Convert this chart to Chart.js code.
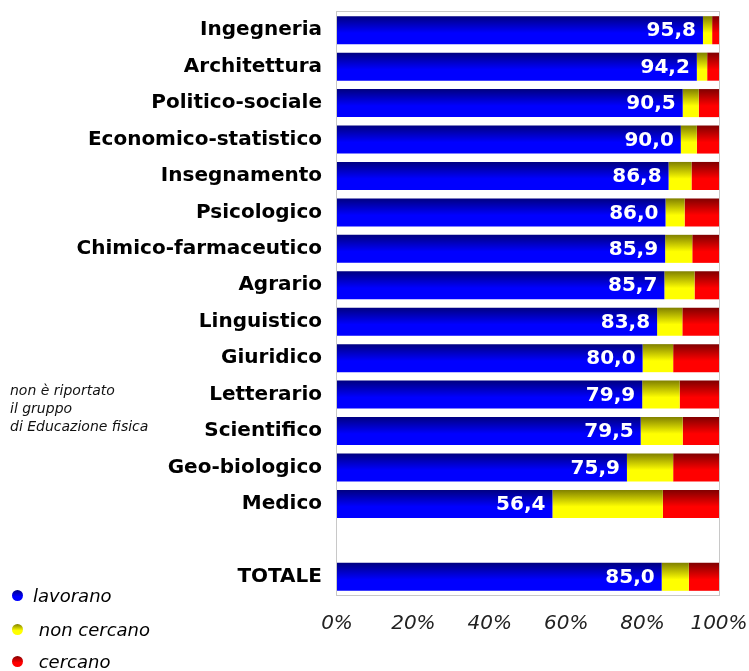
<!DOCTYPE html>
<html>
<head>
<meta charset="utf-8">
<script src="https://cdn.jsdelivr.net/npm/chart.js@4/dist/chart.umd.min.js"></script>
<style>
  html, body { margin: 0; padding: 0; background: #fff; }
  #wrap { position: relative; width: 749px; height: 671px; }
  .nota { position: absolute; left: 10px; top: 381px; font: italic 14px "DejaVu Sans", sans-serif; line-height: 18px; color: #111; }
  .leg { position: absolute; left: 12px; font: italic 18px "DejaVu Sans", sans-serif; color: #000; }
  .leg i { display: inline-block; width: 11px; height: 11px; border-radius: 50%; margin-right: 10px; vertical-align: 1px; }
</style>
</head>
<body>
<div id="wrap">
  <canvas id="c" width="749" height="671"></canvas>
  <div class="nota">non è riportato<br>il gruppo<br>di Educazione fisica</div>
  <div class="leg" style="top:585px"><i style="background:linear-gradient(#000080,#0000ff 60%)"></i>lavorano</div>
  <div class="leg" style="top:619px"><i style="background:linear-gradient(#808000,#ffff00 60%)"></i>&nbsp;non cercano</div>
  <div class="leg" style="top:651px"><i style="background:linear-gradient(#800000,#ff0000 60%)"></i>&nbsp;cercano</div>
</div>
<script>
const categorie = ["Ingegneria", "Architettura", "Politico-sociale", "Economico-statistico",
  "Insegnamento", "Psicologico", "Chimico-farmaceutico", "Agrario", "Linguistico",
  "Giuridico", "Letterario", "Scientifico", "Geo-biologico", "Medico", "", "TOTALE"];
const lavorano =   [95.8, 94.2, 90.5, 90.0, 86.8, 86.0, 85.9, 85.7, 83.8, 80.0, 79.9, 79.5, 75.9, 56.4, null, 85.0];
const nonCercano = [2.4, 2.7, 4.2, 4.2, 6.0, 5.0, 7.1, 7.9, 6.6, 8.0, 9.8, 11.0, 12.1, 28.9, null, 7.1];
const cercano =    [1.8, 3.1, 5.3, 5.8, 7.2, 9.0, 7.0, 6.4, 9.6, 12.0, 10.3, 9.5, 12.0, 14.7, null, 7.9];
const tickPerc = ["0%", "20%", "40%", "60%", "80%", "100%"];

const BAR_PCT = 0.77;

// vertical shading per bar: dark at the top, full colour in the lower part
function shade(dark, light) {
  return ctx => {
    const chart = ctx.chart;
    const y = chart.scales && chart.scales.y;
    if (!y || ctx.dataIndex === undefined) return light;
    const c = y.getPixelForValue(ctx.dataIndex);
    const h = Math.abs(y.getPixelForValue(1) - y.getPixelForValue(0)) * BAR_PCT / 2;
    if (!isFinite(c) || !isFinite(h) || h === 0) return light;
    const g = chart.ctx.createLinearGradient(0, c - h, 0, c + h);
    g.addColorStop(0, dark);
    g.addColorStop(0.6, light);
    g.addColorStop(1, light);
    return g;
  };
}

const cornice = {
  id: "cornice",
  beforeDatasetsDraw(chart) {
    const a = chart.chartArea, ctx = chart.ctx;
    ctx.save();
    ctx.strokeStyle = "#c8c8c8";
    ctx.lineWidth = 1;
    ctx.strokeRect(a.left - 0.5, a.top - 0.5, a.right - a.left + 1, a.bottom - a.top + 1);
    ctx.restore();
  }
};

const valori = {
  id: "valori",
  afterDatasetsDraw(chart) {
    const ctx = chart.ctx;
    const meta = chart.getDatasetMeta(0);
    ctx.save();
    ctx.font = "bold 20px 'DejaVu Sans', sans-serif";
    ctx.fillStyle = "#fff";
    ctx.textAlign = "right";
    ctx.textBaseline = "middle";
    meta.data.forEach((bar, i) => {
      if (lavorano[i] == null) return;
      ctx.fillText(lavorano[i].toFixed(1).replace(".", ","), bar.x - 7, bar.y + 1);
    });
    ctx.restore();
  }
};

new Chart(document.getElementById("c"), {
  type: "bar",
  data: {
    labels: categorie,
    datasets: [
      { label: "lavorano", data: lavorano, backgroundColor: shade("#000080", "#0000ff") },
      { label: "non cercano", data: nonCercano, backgroundColor: shade("#808000", "#ffff00") },
      { label: "cercano", data: cercano, backgroundColor: shade("#800000", "#ff0000") }
    ]
  },
  options: {
    indexAxis: "y",
    responsive: false,
    animation: false,
    layout: { padding: { top: 12, right: 30, left: 0, bottom: 0 } },
    datasets: { bar: { categoryPercentage: 1, barPercentage: BAR_PCT, borderWidth: 0 } },
    plugins: { legend: { display: false }, tooltip: { enabled: false } },
    scales: {
      x: {
        stacked: true, min: 0, max: 100,
        grid: { display: false, drawTicks: false }, border: { display: false },
        ticks: {
          stepSize: 20, padding: 17, color: "#222",
          font: { family: "DejaVu Sans", style: "italic", size: 20 },
          callback: (v, i) => tickPerc[i]
        },
        afterFit: s => { s.height = 76; s.paddingLeft = 0; s.paddingRight = 0; }
      },
      y: {
        stacked: true,
        grid: { display: false, drawTicks: false }, border: { display: false },
        ticks: {
          padding: 15, color: "#000",
          font: { family: "DejaVu Sans", weight: "bold", size: 20 }
        },
        afterFit: s => { s.width = 337; s.paddingTop = 0; s.paddingBottom = 0; }
      }
    }
  },
  plugins: [cornice, valori]
});
</script>
</body>
</html>
